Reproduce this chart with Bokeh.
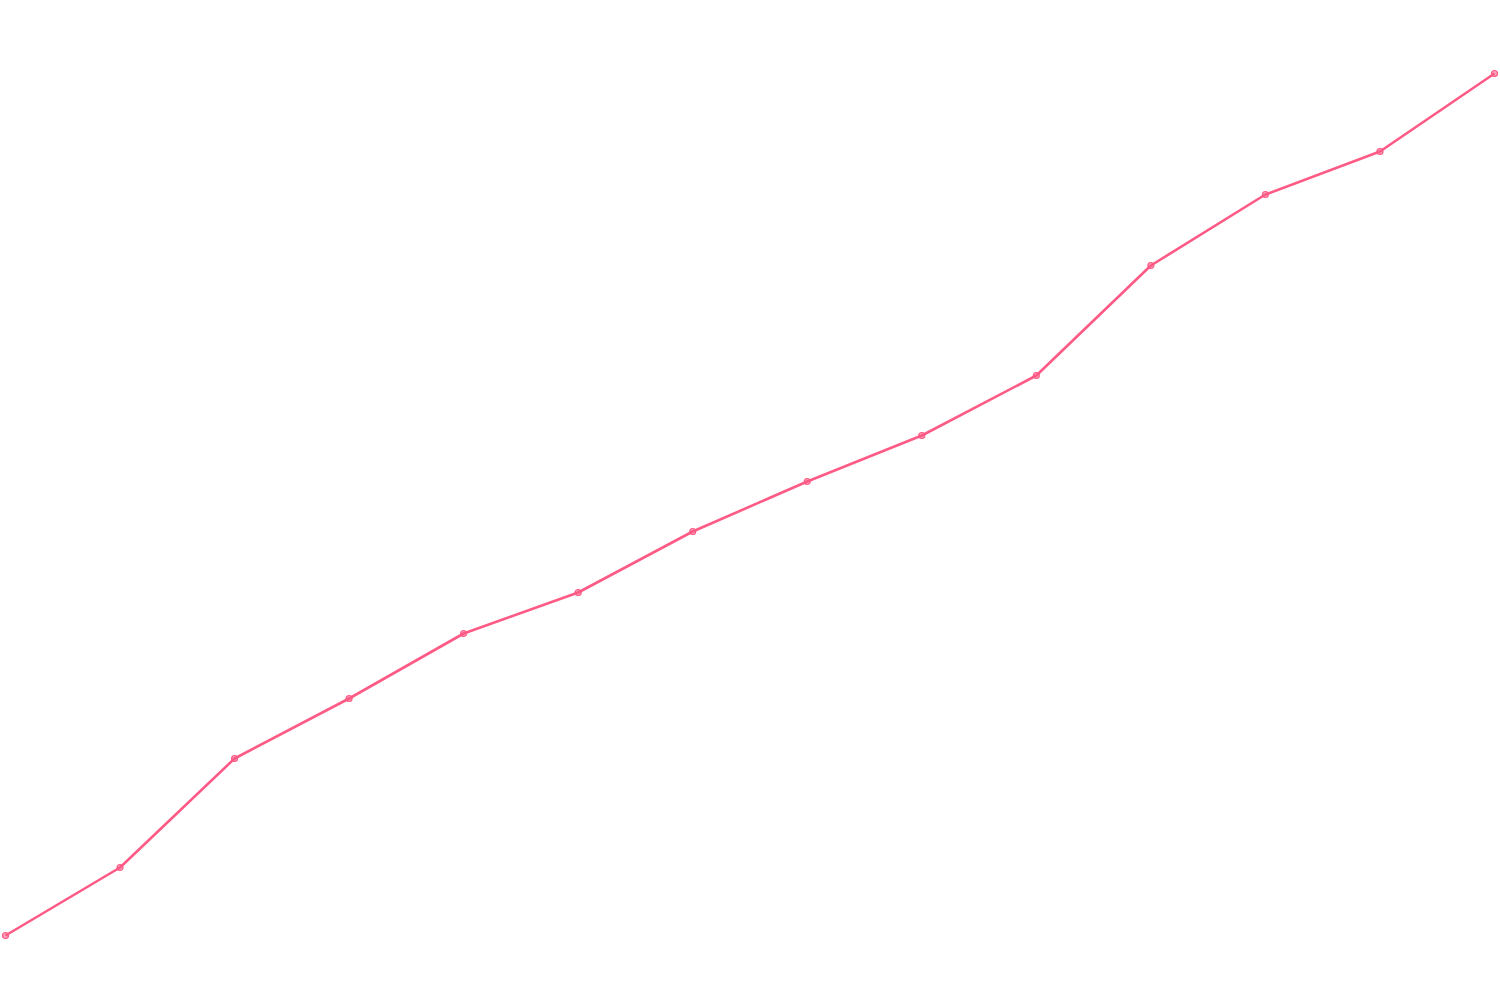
from bokeh.plotting import figure
from bokeh.models import Range1d
from bokeh.embed import file_html
from bokeh.resources import INLINE

# Data (arbitrary units, no axes shown)
index = list(range(14))
values = [65, 133, 242, 302, 367, 408, 469, 519, 565, 625, 735, 806, 849, 927]

W, H = 1500, 1000
# frame pixel of index 0 and 13
px0, px13 = 5.0, 1494.0
px_unit = (px13 - px0) / 13.0
x_start = -px0 / px_unit
x_end = 13 + (W - px13) / px_unit

p = figure(width=W, height=H, output_backend="svg", toolbar_location=None,
           x_range=Range1d(x_start, x_end), y_range=Range1d(0, 1000),
           min_border=0, min_border_left=0, min_border_right=0,
           min_border_top=0, min_border_bottom=0)
p.axis.visible = False
p.grid.visible = False
p.outline_line_color = None
p.background_fill_color = "white"
p.border_fill_color = "white"

color = "#fd5a85"
p.line(index, values, line_color=color, line_width=2.6)
p.scatter(index, values, size=6, fill_color=color, fill_alpha=0.55,
          line_color=color, line_width=1.2)

open("out.html", "w").write(file_html(p, INLINE))
